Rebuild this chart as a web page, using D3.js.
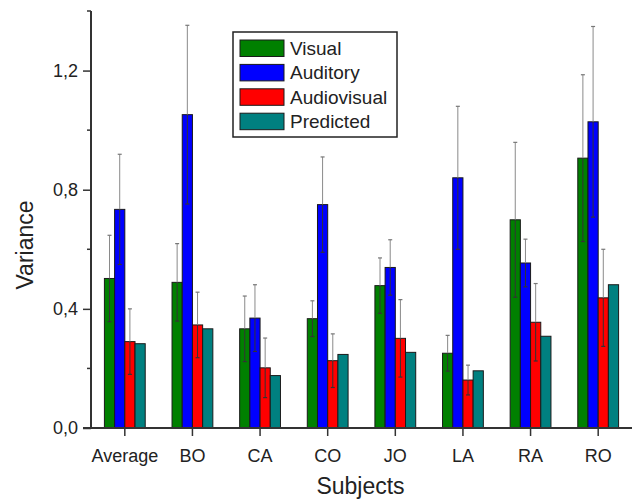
<!DOCTYPE html>
<html>
<head>
<meta charset="utf-8">
<script src="https://cdn.jsdelivr.net/npm/d3@7"></script>
<style>
  body { margin: 0; background: #fff; }
  text { font-family: "Liberation Sans", Arial, sans-serif; fill: #222; }
</style>
</head>
<body>
<div id="graph"></div>
<script>
// variance per subject, 4 conditions
var subjects = ["Average", "BO", "CA", "CO", "JO", "LA", "RA", "RO"];
var seriesNames = ["Visual", "Auditory", "Audiovisual", "Predicted"];
var colors = ["#008000", "#0000ff", "#ff0000", "#008080"];

var visual      = [0.502, 0.489, 0.333, 0.367, 0.478, 0.251, 0.699, 0.906];
var auditory    = [0.734, 1.052, 0.369, 0.750, 0.539, 0.840, 0.554, 1.028];
var audiovisual = [0.290, 0.346, 0.202, 0.226, 0.301, 0.161, 0.355, 0.437];
var predicted   = [0.283, 0.333, 0.176, 0.247, 0.254, 0.192, 0.308, 0.481];

// error bar half widths (Predicted has none)
var visualErr      = [0.145, 0.13, 0.11, 0.06, 0.093, 0.06, 0.26, 0.28];
var auditoryErr    = [0.185, 0.30, 0.112, 0.16, 0.093, 0.24, 0.08, 0.32];
var audiovisualErr = [0.11, 0.11, 0.10, 0.09, 0.13, 0.05, 0.13, 0.163];

var yTicks = [0, 0.4, 0.8, 1.2];
var yMinor = [0.2, 0.6, 1.0, 1.4];

var values = [visual, auditory, audiovisual, predicted];
var errs = [visualErr, auditoryErr, audiovisualErr, null];

var w = 637, h = 503;
var mLeft = 91, mRight = 632, mTop = 11, mBottom = 428;

var svg = d3.select("#graph").append("svg")
  .attr("width", w).attr("height", h);

var x = d3.scaleBand().domain(subjects).range([mLeft, mRight]);
var y = d3.scaleLinear().domain([0, 1.4]).range([mBottom, mTop]);
var barW = 10.2;
var inner = d3.scaleBand().domain(seriesNames)
  .range([-2 * barW, 2 * barW]);

// flatten into bar records
var bars = [];
subjects.forEach(function (s, i) {
  seriesNames.forEach(function (n, j) {
    bars.push({ s: s, n: n, j: j, v: values[j][i], e: errs[j] ? errs[j][i] : null });
  });
});

var g = svg.append("g");

g.selectAll("rect.bar")
  .data(bars)
  .enter()
  .append("rect")
  .attr("class", "bar")
  .attr("x", function (d) { return x(d.s) + x.bandwidth() / 2 + inner(d.n); })
  .attr("y", function (d) { return y(d.v); })
  .attr("width", inner.bandwidth())
  .attr("height", function (d) { return y(0) - y(d.v); })
  .attr("fill", function (d) { return colors[d.j]; })
  .attr("stroke", "#1a1a1a")
  .attr("stroke-width", 1);

// error bars
var eb = g.selectAll("g.err")
  .data(bars.filter(function (d) { return d.e != null; }))
  .enter()
  .append("g")
  .attr("class", "err")
  .attr("transform", function (d) {
    return "translate(" + (x(d.s) + x.bandwidth() / 2 + inner(d.n) + inner.bandwidth() / 2) + ",0)";
  });

eb.append("line")
  .attr("y1", function (d) { return y(d.v + d.e); })
  .attr("y2", function (d) { return y(d.v); })
  .attr("stroke", "#8a8a8a").attr("stroke-width", 1);
eb.append("line")
  .attr("y1", function (d) { return y(d.v); })
  .attr("y2", function (d) { return y(d.v - d.e); })
  .attr("stroke", "#333").attr("stroke-width", 1);
eb.selectAll("line.cap")
  .data(function (d) { return [d.v + d.e, d.v - d.e]; })
  .enter()
  .append("line")
  .attr("class", "cap")
  .attr("x1", -2).attr("x2", 2)
  .attr("y1", function (v) { return y(v); })
  .attr("y2", function (v) { return y(v); })
  .attr("stroke", function (v, k) { return k === 0 ? "#777" : "#333"; })
  .attr("stroke-width", 1.2);

// y axis
var yAxis = svg.append("g")
  .attr("transform", "translate(" + mLeft + ",0)")
  .call(d3.axisLeft(y).tickValues(yTicks).tickSize(8).tickPadding(5)
    .tickFormat(function (d) { return d3.format(".1f")(d).replace(".", ","); }));
yAxis.select(".domain").remove();
yAxis.selectAll(".tick line").attr("stroke", "#333").attr("stroke-width", 1.5);
yAxis.selectAll("text").style("font-size", "18px").attr("fill", "#222");

svg.append("g")
  .attr("transform", "translate(" + mLeft + ",0)")
  .selectAll("line")
  .data(yMinor)
  .enter()
  .append("line")
  .attr("x1", -4).attr("x2", 0)
  .attr("y1", function (d) { return y(d); })
  .attr("y2", function (d) { return y(d); })
  .attr("stroke", "#333").attr("stroke-width", 1.5);

svg.append("line")
  .attr("x1", mLeft).attr("x2", mLeft)
  .attr("y1", mTop).attr("y2", mBottom)
  .attr("stroke", "#333").attr("stroke-width", 2);

// x axis
var xAxis = svg.append("g")
  .attr("transform", "translate(0," + mBottom + ")")
  .call(d3.axisBottom(x).tickSize(8).tickPadding(13));
xAxis.select(".domain").remove();
xAxis.selectAll(".tick line").attr("stroke", "#333").attr("stroke-width", 1.5);
xAxis.selectAll("text").style("font-size", "18px").attr("fill", "#222");

svg.append("line")
  .attr("x1", mLeft - 8).attr("x2", mRight)
  .attr("y1", mBottom).attr("y2", mBottom)
  .attr("stroke", "#333").attr("stroke-width", 2);

// titles
svg.append("text")
  .attr("x", (mLeft + mRight) / 2 - 1).attr("y", 494)
  .attr("text-anchor", "middle")
  .style("font-size", "23px")
  .text("Subjects");

svg.append("text")
  .attr("transform", "translate(33,245) rotate(-90)")
  .attr("text-anchor", "middle")
  .style("font-size", "23px")
  .text("Variance");

// legend
var lg = svg.append("g").attr("transform", "translate(233,32)");
lg.append("rect")
  .attr("width", 164).attr("height", 105)
  .attr("fill", "#fff").attr("stroke", "#222").attr("stroke-width", 1.5);
var rows = lg.selectAll("g.row")
  .data(seriesNames)
  .enter()
  .append("g")
  .attr("class", "row")
  .attr("transform", function (d, i) { return "translate(7," + (8 + i * 24.4) + ")"; });
rows.append("rect")
  .attr("width", 44).attr("height", 16.5)
  .attr("fill", function (d, i) { return colors[i]; })
  .attr("stroke", "#1a1a1a").attr("stroke-width", 1);
rows.append("text")
  .attr("x", 50).attr("y", 15)
  .style("font-size", "19px")
  .text(function (d) { return d; });
</script>
</body>
</html>
